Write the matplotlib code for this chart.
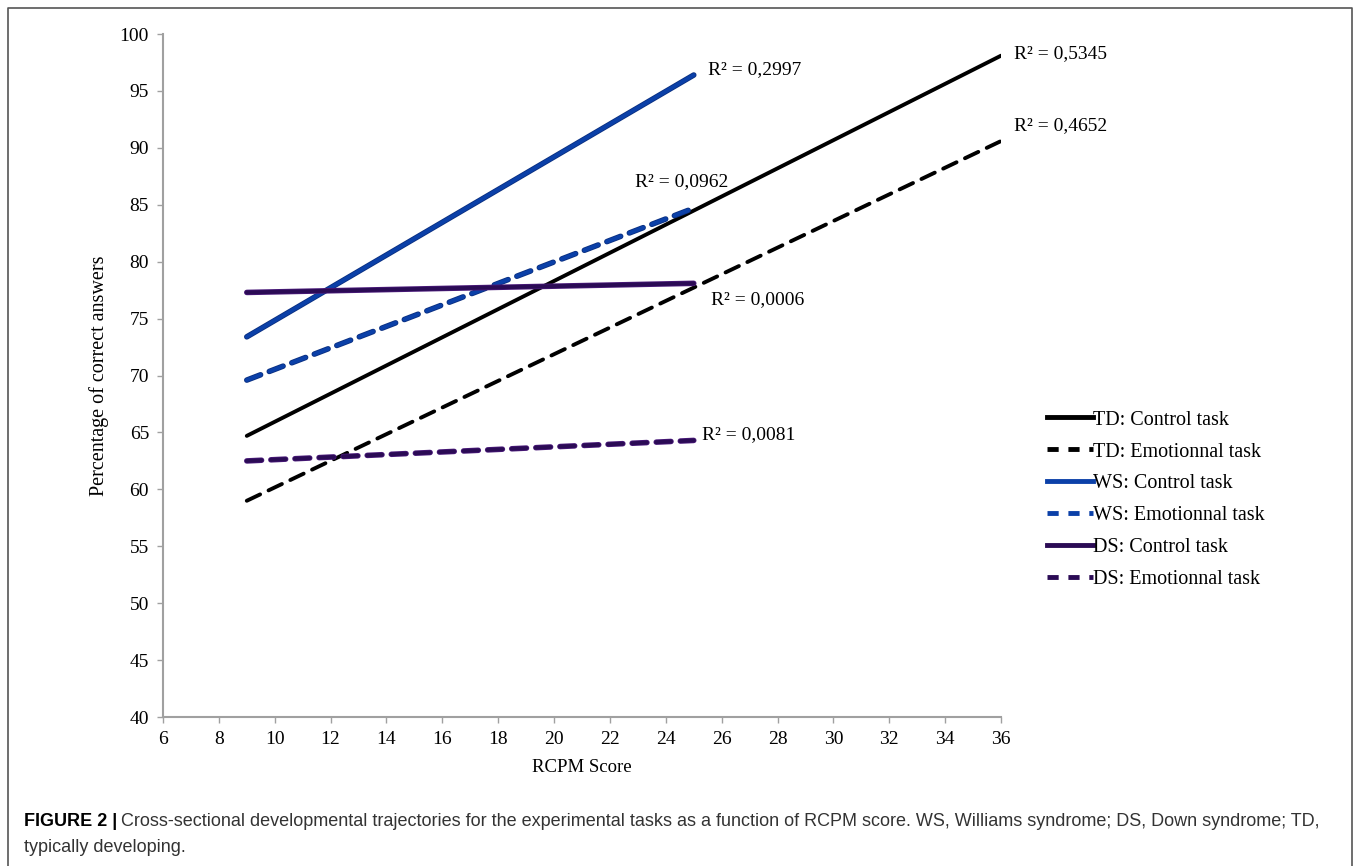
import matplotlib.pyplot as plt
import matplotlib.patheffects as pe
from matplotlib.lines import Line2D

# RCPM score range of each fitted trend line
x_td = [9, 36]
x_ws = [9, 25]
x_ds = [9, 25]

# fitted % correct at the two ends
td_control = [64.7, 98.1]
td_emotion = [59.0, 90.6]
ws_control = [73.4, 96.4]
ws_emotion = [69.6, 84.7]
ds_control = [77.3, 78.1]
ds_emotion = [62.5, 64.3]

r2_labels = ['R² = 0,5345', 'R² = 0,4652', 'R² = 0,2997', 'R² = 0,0962', 'R² = 0,0006', 'R² = 0,0081']
r2_pos = [(36.45, 98.3), (36.45, 92.0), (25.5, 96.9), (22.9, 87.0), (25.6, 76.7), (25.3, 64.8)]

legend_labels = ['TD: Control task', 'TD: Emotionnal task', 'WS: Control task',
                 'WS: Emotionnal task', 'DS: Control task', 'DS: Emotionnal task']

serif = ['Liberation Serif', 'DejaVu Serif']
blue = '#0b40a8'
purple = '#2b0b55'

fig = plt.figure(figsize=(13.57, 8.66), dpi=100)
ax = fig.add_axes([0.1201, 0.172, 0.6176, 0.7887])

def draw(x, y, color, ls, edge=None):
    kw = {}
    if edge:
        kw['path_effects'] = [pe.Stroke(linewidth=4.0, foreground=edge), pe.Normal()]
    ax.plot(x, y, color=color, lw=2.8, ls=ls, dashes=(3.8, 2.4) if ls == '--' else (None, None),
            solid_capstyle='round', dash_capstyle='round', **kw)

draw(x_td, td_control, 'black', '-')
draw(x_td, td_emotion, 'black', '--')
draw(x_ws, ws_control, blue, '-', '#0a2f80')
draw(x_ws, ws_emotion, blue, '--', '#0a2f80')
draw(x_ds, ds_control, purple, '-', '#4a1a7a')
draw(x_ds, ds_emotion, purple, '--', '#4a1a7a')

for lab, (px, py) in zip(r2_labels, r2_pos):
    ax.text(px, py, lab, family=serif, fontsize=14, va='center', ha='left')

ax.set_xlim(6, 36)
ax.set_ylim(40, 100)
ax.set_xticks(range(6, 37, 2))
ax.set_yticks(range(40, 101, 5))
for s in ['top', 'right']:
    ax.spines[s].set_visible(False)
for s in ['left', 'bottom']:
    ax.spines[s].set_color('#a0a0a0')
    ax.spines[s].set_linewidth(1.5)
ax.tick_params(direction='out', length=4, width=1, color='#a0a0a0', labelsize=14, pad=6)
for t in ax.get_xticklabels() + ax.get_yticklabels():
    t.set_family(serif)
ax.set_xlabel('RCPM Score', family=serif, fontsize=13.5, labelpad=8)
ax.set_ylabel('Percentage of correct answers', family=serif, fontsize=14.5, labelpad=8)

handles = [
    Line2D([], [], color='black', lw=3.5),
    Line2D([], [], color='black', lw=3.5, ls='--', dashes=(2.3, 2.0)),
    Line2D([], [], color=blue, lw=3.5),
    Line2D([], [], color=blue, lw=3.5, ls='--', dashes=(2.3, 2.0)),
    Line2D([], [], color=purple, lw=3.5),
    Line2D([], [], color=purple, lw=3.5, ls='--', dashes=(2.3, 2.0)),
]
fig.legend(handles, legend_labels, loc='upper left', bbox_to_anchor=(0.758, 0.547),
           frameon=False, prop={'family': serif, 'size': 14.5}, handlelength=2.3,
           handletextpad=0.0, labelspacing=0.64)

# figure frame and caption
fig.add_artist(Line2D([8 / 1357, 8 / 1357, 1352 / 1357, 1352 / 1357],
                      [0, 1 - 8 / 866, 1 - 8 / 866, 0], transform=fig.transFigure,
                      color='#555555', lw=1.2))
sans = ['Liberation Sans', 'DejaVu Sans']
fig.text(24 / 1357, 1 - 821 / 866, 'FIGURE 2 |', family=sans, fontsize=13.0,
         fontweight='bold', va='center', ha='left')
fig.text(121 / 1357, 1 - 821 / 866,
         'Cross-sectional developmental trajectories for the experimental tasks as a function of RCPM score. '
         'WS, Williams syndrome; DS, Down syndrome; TD,',
         family=sans, fontsize=13.0, va='center', ha='left', color='#333333')
fig.text(24 / 1357, 1 - 847 / 866, 'typically developing.', family=sans, fontsize=13.0,
         va='center', ha='left', color='#333333')

fig.savefig('out.png', dpi=100)
